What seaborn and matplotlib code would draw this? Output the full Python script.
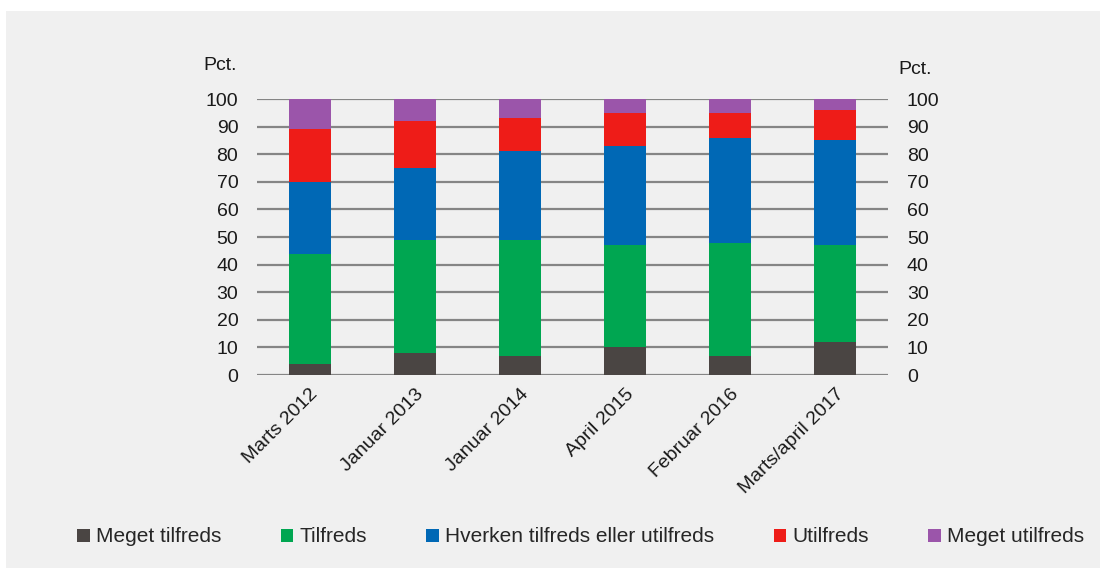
import numpy as np
import pandas as pd
import matplotlib
matplotlib.use('Agg')
import matplotlib.pyplot as plt
from matplotlib.patches import Patch, Rectangle
import seaborn as sns

# data (pct.)
periods = ['Marts 2012', 'Januar 2013', 'Januar 2014', 'April 2015', 'Februar 2016', 'Marts/april 2017']
series = ['Meget tilfreds', 'Tilfreds', 'Hverken tilfreds eller utilfreds', 'Utilfreds', 'Meget utilfreds']
meget_tilfreds = [4, 8, 7, 10, 7, 12]
tilfreds = [40, 41, 42, 37, 41, 35]
hverken = [26, 26, 32, 36, 38, 38]
utilfreds = [19, 17, 12, 12, 9, 11]
meget_utilfreds = [11, 8, 7, 5, 5, 4]
colors = ['#4a4543', '#00a651', '#0068b5', '#ee1c18', '#9b55aa']
yticks = [0, 10, 20, 30, 40, 50, 60, 70, 80, 90, 100]

df = pd.DataFrame({'periode': periods,
                   series[0]: meget_tilfreds, series[1]: tilfreds,
                   series[2]: hverken, series[3]: utilfreds,
                   series[4]: meget_utilfreds})
cum = df[series].cumsum(axis=1)
cum['periode'] = periods

sns.set_style('white')
plt.rcParams['font.family'] = ['Liberation Sans', 'DejaVu Sans']

fig = plt.figure(figsize=(11.04, 5.74), dpi=100)
fig.patch.set_facecolor('white')
fig.patches.append(Rectangle((6 / 1104, 1 - 568 / 574), 1094 / 1104, 557 / 574,
                             transform=fig.transFigure, facecolor='#f0f0f0',
                             edgecolor='none', zorder=-5))
ax = fig.add_axes([257 / 1104, 1 - 375 / 574, 631 / 1104, 276 / 574])
ax.set_facecolor('none')

for y in yticks:
    ax.axhline(y, color='#858585', lw=1.6, zorder=1)

# stacked bars: draw cumulative tops from highest down
for s, c in reversed(list(zip(series, colors))):
    sns.barplot(data=cum, x='periode', y=s, color=c, width=0.4,
                saturation=1, linewidth=0, ax=ax, zorder=2)

ax.set_xlim(-0.5, 5.5)
ax.set_ylim(0, 100)
ax.set_yticks(yticks)
ax.set_xlabel('')
ax.set_ylabel('')
for sp in ax.spines.values():
    sp.set_visible(False)
ax.tick_params(axis='y', left=False, right=False, labelleft=True, labelright=True,
               labelsize=14, labelcolor='#1a1a1a', pad=10)
ax.tick_params(axis='x', bottom=False, labelsize=14, labelcolor='#1a1a1a', pad=4)
plt.setp(ax.get_xticklabels(), rotation=45, ha='right', rotation_mode='anchor')

fig.text(203 / 1104, 1 - 66 / 574, 'Pct.', fontsize=14, color='#1a1a1a', va='center')
fig.text(898 / 1104, 1 - 70 / 574, 'Pct.', fontsize=14, color='#1a1a1a', va='center')

handles = [Patch(facecolor=c, edgecolor='none') for c in colors]
fig.legend(handles, series, loc='center', bbox_to_anchor=(0.526, 1 - 537 / 574),
           ncol=5, frameon=False, fontsize=15, handlelength=0.6, handleheight=0.6,
           handletextpad=0.3, columnspacing=2.85)

fig.savefig('out.png', dpi=100)
